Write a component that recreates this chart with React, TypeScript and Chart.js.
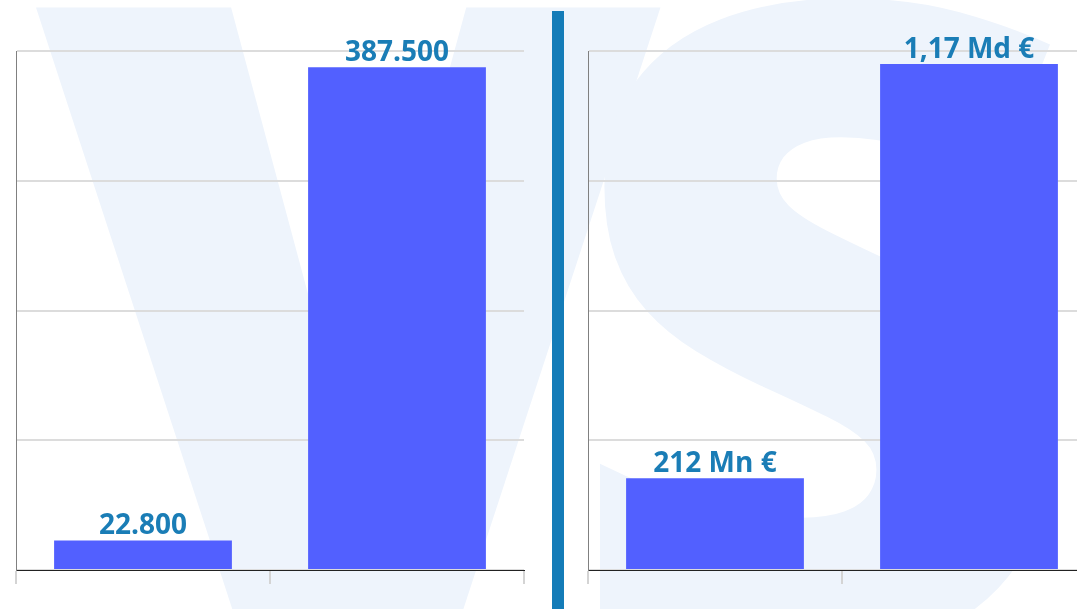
import React, { useEffect, useRef } from "react";
import { Chart, registerables } from "chart.js";

Chart.register(...registerables);

const leftCategories = ["A", "B"];
const leftValues = [22800, 387500];
const leftLabels = ["22.800", "387.500"];
const leftMax = 400000;
const leftStep = 100000;

const rightCategories = ["A", "B"];
const rightValues = [212000000, 1170000000];
const rightLabels = ["212 Mn €", "1,17 Md €"];
const rightMax = 1200000000;
const rightStep = 300000000;

const BAR_COLOR = "#5260ff";
const LABEL_COLOR = "#1a7db6";

function makeConfig(categories: string[], values: number[], labels: string[], max: number, step: number): any {
  const labelPlugin = {
    id: "barLabels",
    afterDatasetsDraw(chart: any) {
      const ctx = chart.ctx;
      const meta = chart.getDatasetMeta(0);
      ctx.save();
      ctx.font = "bold 28px 'Open Sans'";
      ctx.fillStyle = LABEL_COLOR;
      ctx.textAlign = "center";
      ctx.textBaseline = "alphabetic";
      meta.data.forEach((el: any, i: number) => {
        ctx.fillText(labels[i], el.x, el.y - 6);
      });
      ctx.restore();
    },
  };
  return {
    type: "bar",
    data: {
      labels: categories,
      datasets: [
        {
          data: values,
          backgroundColor: BAR_COLOR,
          borderWidth: 0,
          categoryPercentage: 1,
          barPercentage: 0.7,
        },
      ],
    },
    options: {
      responsive: false,
      animation: false,
      devicePixelRatio: 1,
      layout: { padding: { left: 16, right: 16, top: 51, bottom: 25 } },
      plugins: { legend: { display: false }, tooltip: { enabled: false }, title: { display: false } },
      scales: {
        x: {
          offset: true,
          ticks: { display: false },
          grid: {
            display: true,
            drawOnChartArea: false,
            drawTicks: true,
            tickLength: 14,
            color: "#d4d4d4",
            lineWidth: 2,
          },
          border: { display: true, color: "#222222", width: 1 },
        },
        y: {
          min: 0,
          max: max,
          ticks: { display: false, stepSize: step },
          grid: { display: true, drawTicks: false, color: "#dcdcdc", lineWidth: 2 },
          border: { display: true, color: "#808080", width: 1 },
        },
      },
    },
    plugins: [labelPlugin],
  };
}

function BarCanvas(props: { categories: string[]; values: number[]; labels: string[]; max: number; step: number; left: number }) {
  const ref = useRef<HTMLCanvasElement | null>(null);
  useEffect(() => {
    if (!ref.current) return;
    const chart = new Chart(ref.current, makeConfig(props.categories, props.values, props.labels, props.max, props.step));
    return () => chart.destroy();
  }, []);
  return (
    <canvas
      ref={ref}
      width={540}
      height={609}
      style={{ position: "absolute", left: props.left, top: 0, width: 540, height: 609 }}
    />
  );
}

export default function App() {
  useEffect(() => {
    document.body.style.margin = "0";
  }, []);
  return (
    <div style={{ position: "relative", width: 1077, height: 609, overflow: "hidden", background: "#ffffff" }}>
      <div
        style={{
          position: "absolute",
          left: 36,
          top: -149,
          fontFamily: "'Open Sans'",
          fontWeight: 800,
          fontSize: 900,
          lineHeight: 1,
          color: "#eef4fc",
          whiteSpace: "nowrap",
          letterSpacing: -100,
        }}
      >
        VS
      </div>
      <BarCanvas categories={leftCategories} values={leftValues} labels={leftLabels} max={leftMax} step={leftStep} left={0} />
      <div style={{ position: "absolute", left: 552, top: 11, width: 12, height: 598, background: "#147cb8" }} />
      <BarCanvas categories={rightCategories} values={rightValues} labels={rightLabels} max={rightMax} step={rightStep} left={572} />
    </div>
  );
}
